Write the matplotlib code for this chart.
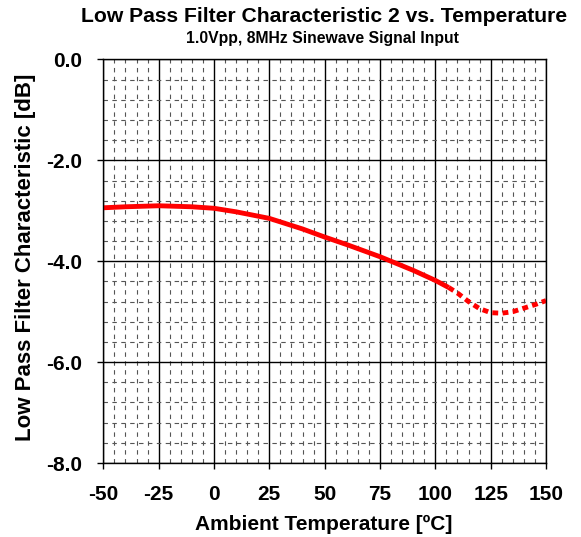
import numpy as np
import matplotlib
matplotlib.use('Agg')
import matplotlib.pyplot as plt
from matplotlib.ticker import MultipleLocator

plt.rcParams['font.family'] = ['Liberation Sans', 'DejaVu Sans']

# measured curve (solid part, then dotted extrapolated part)
temp_solid = [-50, -40, -25, -10, 0, 10, 25, 40, 50, 60, 75, 90, 100, 106]
val_solid = [-2.94, -2.92, -2.90, -2.92, -2.95, -3.02, -3.15, -3.36, -3.52,
             -3.67, -3.91, -4.18, -4.38, -4.52]
temp_dot = [106, 110, 115, 120, 125, 130, 135, 140, 145, 150]
val_dot = [-4.52, -4.63, -4.80, -4.94, -5.02, -5.03, -5.00, -4.93, -4.86, -4.78]

xticks = [-50, -25, 0, 25, 50, 75, 100, 125, 150]
yticks = [0.0, -2.0, -4.0, -6.0, -8.0]

fig = plt.figure(figsize=(5.81, 5.37), dpi=100)
ax = fig.add_axes([0.1778, 0.1378, 0.762, 0.7514])

ax.set_xlim(-50, 150)
ax.set_ylim(-8, 0)
ax.xaxis.set_major_locator(MultipleLocator(25))
ax.xaxis.set_minor_locator(MultipleLocator(5))
ax.yaxis.set_major_locator(MultipleLocator(2))
ax.yaxis.set_minor_locator(MultipleLocator(0.4))

ax.grid(which='major', color='black', linewidth=1.0, linestyle='-')
ax.grid(which='minor', color='#555555', linewidth=0.8, linestyle=(0, (4, 4)))
ax.set_axisbelow(True)

ax.plot(temp_solid, val_solid, color='#ff0000', linewidth=3.5, solid_capstyle='butt')
ax.plot(temp_dot, val_dot, color='#ff0000', linewidth=3.5, linestyle=(0, (1.2, 0.9)))

ax.set_xticks(xticks)
ax.set_xticklabels([str(t) for t in xticks])
ax.set_yticks(yticks)
ax.set_yticklabels(['%.1f' % v for v in yticks])
ax.tick_params(which='major', direction='out', length=4.5, width=1,
               labelsize=15, pad=11)
ax.tick_params(which='minor', length=0)
for lab in ax.get_xticklabels() + ax.get_yticklabels():
    lab.set_fontweight('bold')

for s in ax.spines.values():
    s.set_linewidth(1.0)
    s.set_color('black')

fig.text(324/581, 1 - 524/537, 'Ambient Temperature [ºC]',
         ha='center', va='center', fontsize=15, fontweight='bold')
fig.text(26/581, 1 - 257/537, 'Low Pass Filter Characteristic [dB]',
         ha='center', va='center', rotation=90, fontsize=16, fontweight='bold')

fig.text(324/581, 1 - 17/537, 'Low Pass Filter Characteristic 2 vs. Temperature',
         ha='center', va='center', fontsize=15.2, fontweight='bold')
fig.text(323/581, 1 - 39/537, '1.0Vpp, 8MHz Sinewave Signal Input',
         ha='center', va='center', fontsize=11.3, fontweight='bold')

fig.savefig('out.png', dpi=100)
